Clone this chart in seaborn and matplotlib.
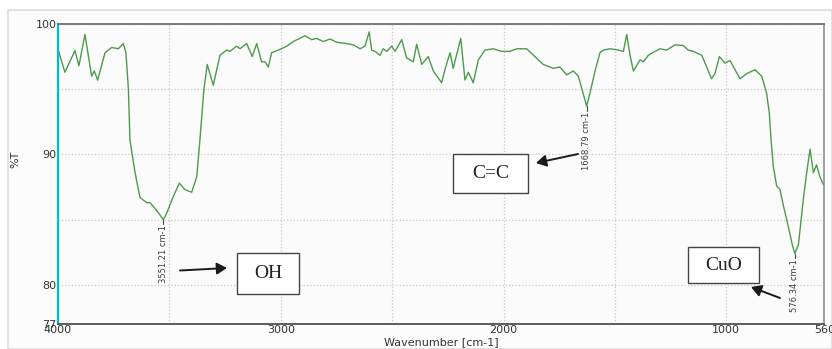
import numpy as np
import pandas as pd
import matplotlib
matplotlib.use("Agg")
import matplotlib.pyplot as plt
import seaborn as sns
from matplotlib.patches import Rectangle
from matplotlib.lines import Line2D

# ---- data ----
wavenumber = [3999, 3969, 3924, 3906, 3879, 3849, 3837, 3822, 3789, 3759, 3729, 3707, 3695,
              3684, 3677, 3654, 3632, 3602, 3587, 3557, 3527, 3512, 3482, 3455, 3430, 3400,
              3377, 3363, 3345, 3330, 3303, 3273, 3243, 3228, 3198, 3183, 3153, 3128, 3108,
              3086, 3071, 3056, 3041, 3011, 2973, 2944, 2891, 2861, 2839, 2809, 2779, 2749,
              2704, 2674, 2644, 2622, 2603, 2592, 2577, 2555, 2540, 2524, 2502, 2487, 2457,
              2435, 2420, 2405, 2390, 2367, 2338, 2315, 2278, 2263, 2240, 2226, 2192, 2173,
              2158, 2136, 2113, 2083, 2046, 2008, 1971, 1941, 1896, 1859, 1822, 1777, 1747,
              1716, 1687, 1664, 1627, 1612, 1589, 1567, 1552, 1522, 1485, 1462, 1447, 1432,
              1417, 1387, 1372, 1350, 1320, 1298, 1268, 1230, 1193, 1171, 1148, 1110, 1088,
              1066, 1051, 1031, 1006, 983, 961, 938, 908, 871, 841, 819, 807, 799, 789, 774,
              759, 744, 722, 704, 692, 676, 654, 639, 624, 609, 595, 580, 565, 560]
transmittance = [98.0, 96.3, 97.96, 96.8, 99.2, 96.0, 96.4, 95.7, 97.8, 98.2, 98.1, 98.5, 97.8,
                 95.0, 91.1, 88.6, 86.7, 86.3, 86.3, 85.7, 85.0, 85.5, 86.8, 87.8, 87.3, 87.1,
                 88.3, 91.1, 95.0, 96.9, 95.3, 97.6, 98.0, 97.9, 98.3, 98.1, 98.5, 97.5, 98.5,
                 97.1, 97.1, 96.7, 97.8, 98.0, 98.3, 98.65, 99.1, 98.8, 98.9, 98.65, 98.85, 98.6,
                 98.5, 98.4, 98.1, 98.3, 99.4, 98.0, 97.9, 97.6, 98.1, 97.9, 98.3, 97.9, 98.8,
                 97.4, 97.25, 97.1, 98.45, 96.9, 97.5, 96.4, 95.5, 96.5, 97.8, 96.6, 98.9, 95.7,
                 96.3, 95.5, 97.25, 98.0, 98.1, 97.9, 97.9, 98.1, 98.1, 97.5, 96.9, 96.6, 96.7,
                 96.1, 96.4, 96.0, 93.7, 94.7, 96.4, 97.8, 98.0, 98.1, 98.0, 97.9, 99.2, 97.6,
                 96.4, 97.25, 97.1, 97.6, 97.9, 98.1, 98.0, 98.4, 98.35, 98.0, 97.9, 97.6, 96.7,
                 95.8, 96.2, 97.5, 97.0, 97.2, 96.5, 95.8, 96.2, 96.5, 96.0, 94.7, 93.2, 91.1, 89.1, 87.6,
                 87.3, 86.1, 84.5, 83.1, 82.4, 83.1, 86.6, 88.6, 90.4, 88.6, 89.2, 88.3, 87.7, 87.6]

peak_labels = ["3551.21 cm-1", "1668.79 cm-1", "576.34 cm-1"]
peak_wn = [3527, 1627, 692]
peak_T = [85.0, 93.7, 82.4]
group_labels = ["OH", "C=C", "CuO"]

x_major = [4000, 3000, 2000, 1000, 560]
x_minor = [3500, 2500, 1500]
y_major = [77, 80, 90, 100]
y_minor = [85, 95]

df = pd.DataFrame({"wn": wavenumber, "T": transmittance})

W, H = 832, 349
sns.set_theme(style="white")
plt.rcParams["font.family"] = ["DejaVu Sans"]

fig = plt.figure(figsize=(W / 100, H / 100), dpi=100)
fig.patch.set_facecolor("white")

def fx(x):
    return x / W

def fy(y):
    return 1 - y / H

# outer light frame
fig.add_artist(Rectangle((fx(8), fy(349)), fx(832) - fx(8), fy(10) - fy(349),
                         transform=fig.transFigure, facecolor="#fcfcfc",
                         edgecolor="#dddddd", lw=1.2, zorder=0))

ax = fig.add_axes([fx(58), fy(324), fx(824.3) - fx(58), fy(24) - fy(324)])
ax.set_facecolor("#fbfbfb")

sns.lineplot(data=df, x="wn", y="T", sort=False, ax=ax, color="#4c9a4c", lw=1.0)

ax.set_xlim(4000, 560)
ax.set_ylim(77, 100)
ax.set_xticks(x_major)
ax.set_xticks(x_minor, minor=True)
ax.set_yticks(y_major)
ax.set_yticks(y_minor, minor=True)
ax.grid(True, which="both", color="#c8c8c8", ls=":", lw=0.9)
ax.tick_params(axis="both", which="both", direction="in", length=3, colors="#555555",
               labelsize=8, labelcolor="#333333", pad=1)
ax.tick_params(axis="y", which="minor", length=0)

for side, col, lw in [("top", "#707070", 1.3), ("right", "#909090", 1.2),
                      ("bottom", "#505050", 1.3), ("left", "#00bcd0", 1.6)]:
    ax.spines[side].set_visible(True)
    ax.spines[side].set_color(col)
    ax.spines[side].set_linewidth(lw)

ax.set_xlabel("Wavenumber [cm-1]", fontsize=8, color="#333333", labelpad=1)
ax.set_ylabel("%T", fontsize=8, color="#333333")
ax.yaxis.set_label_coords(fx(18) - fx(58) * 0 - 0.0, 0.5)
ax.yaxis.label.set_position((0, 0.55))
ax.yaxis.set_label_coords(-(58 - 20) / (824.3 - 58), 0.55)

# peak labels (vertical)
for lab, wn, t in zip(peak_labels, peak_wn, peak_T):
    ax.plot([wn, wn], [t, t - 0.35], color="#444444", lw=0.8)
    ax.text(wn, t - 0.45, lab, rotation=90, ha="center", va="top", fontsize=6,
            color="#3a3a4a")

# boxed group labels (figure pixel coords from the reference)
boxes = [(237, 253, 299, 294), (453, 154, 528, 193), (688, 247, 759, 283)]
for lab, (x0, y0, x1, y1) in zip(group_labels, boxes):
    fig.add_artist(Rectangle((fx(x0), fy(y1)), fx(x1) - fx(x0), fy(y0) - fy(y1),
                             transform=fig.transFigure, facecolor="white",
                             edgecolor="#444444", lw=1.0, zorder=5))
    fig.text(fx((x0 + x1) / 2), fy((y0 + y1) / 2), lab, ha="center", va="center",
             fontsize=14, family=["Liberation Serif"], color="#222222", zorder=6)

arrows = [((180, 270.5), (227, 268)), ((578, 154), (536, 163)), ((780, 298), (751, 287))]
for (sx, sy), (ex, ey) in arrows:
    fig.add_artist(matplotlib.patches.FancyArrowPatch(
        (fx(sx), fy(sy)), (fx(ex), fy(ey)), transform=fig.transFigure,
        arrowstyle="-|>,head_length=6,head_width=3.5", color="#1a1a1a", lw=1.4,
        shrinkA=0, shrinkB=0, zorder=6))

fig.savefig("out.png", dpi=100)
